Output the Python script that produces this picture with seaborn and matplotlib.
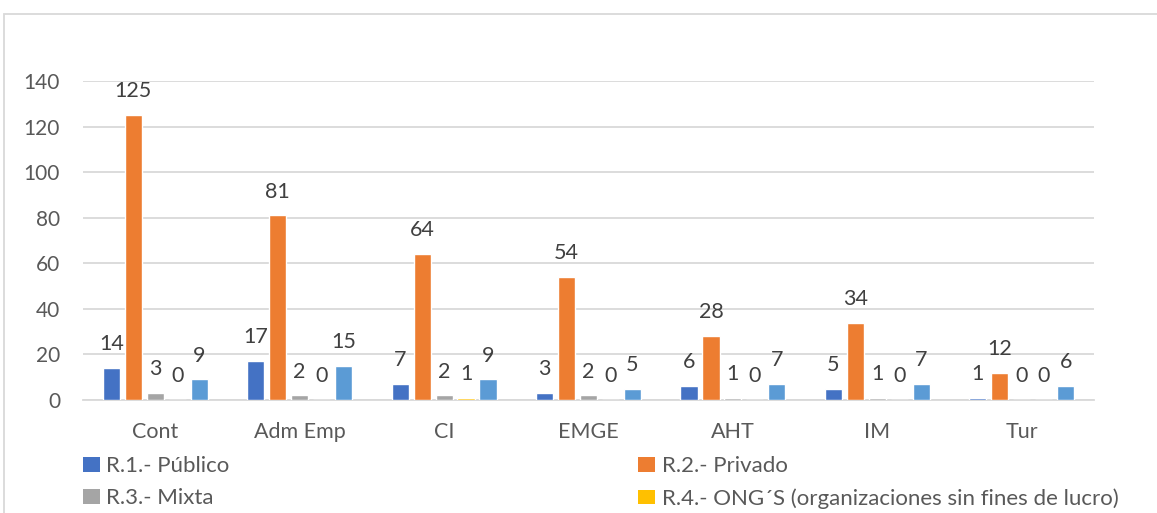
import matplotlib
matplotlib.use("Agg")
import matplotlib.pyplot as plt
from matplotlib.patches import Rectangle, Patch
import seaborn as sns
import pandas as pd

# Programs and counts by sector
programs = ["Cont", "Adm Emp", "CI", "EMGE", "AHT", "IM", "Tur"]
publico = [14, 17, 7, 3, 6, 5, 1]
privado = [125, 81, 64, 54, 28, 34, 12]
mixta = [3, 2, 2, 2, 1, 1, 0]
ong = [0, 0, 1, 0, 0, 0, 0]
otros = [9, 15, 9, 5, 7, 7, 6]

series_names = [
    "R.1.- Público",
    "R.2.- Privado",
    "R.3.- Mixta",
    "R.4.- ONG´S (organizaciones sin fines de lucro)",
    "R.5.- Otros",
]
series_values = [publico, privado, mixta, ong, otros]
colors = ["#4472C4", "#ED7D31", "#A5A5A5", "#FFC000", "#5B9BD5"]

rows = []
for name, vals in zip(series_names, series_values):
    for prog, v in zip(programs, vals):
        rows.append({"Programa": prog, "Sector": name, "Valor": v})
df = pd.DataFrame(rows)

sns.set_theme(style="white")
plt.rcParams["font.family"] = ["Lato", "DejaVu Sans"]

W, H = 1157, 513
fig = plt.figure(figsize=(W / 100, H / 100), dpi=100)
ax = fig.add_axes([83 / W, 1 - 400 / H, (1094 - 83) / W, 319 / H])

sns.barplot(
    data=df, x="Programa", y="Valor", hue="Sector",
    hue_order=series_names, order=programs,
    palette=colors, width=0.76, gap=0.22, saturation=1,
    errorbar=None, legend=False, ax=ax, zorder=3,
)

ax.set_ylim(0, 140)
ax.set_xlim(-0.5, len(programs) - 0.5)
ax.set_yticks(range(0, 141, 20))
ax.yaxis.grid(True, color="#D9D9D9", linewidth=1.3, zorder=0)
ax.set_axisbelow(True)
for side in ["top", "right", "left"]:
    ax.spines[side].set_visible(False)
ax.spines["bottom"].set_color("#D9D9D9")
ax.spines["bottom"].set_linewidth(1.3)
ax.spines["bottom"].set_zorder(1)
ax.set_xlabel("")
ax.set_ylabel("")
ax.tick_params(axis="y", length=0, pad=16.5, labelsize=15, labelcolor="#595959")
ax.tick_params(axis="x", length=0, pad=16, labelsize=15.5, labelcolor="#595959")

# Value labels above each bar
for container in ax.containers:
    ax.bar_label(container, fmt="%d", padding=10, fontsize=15.5, color="#404040")

# Outer chart border
fig.patches.append(Rectangle((4 / W, -0.1), 1.2, 1 - 14 / H + 0.1,
                             transform=fig.transFigure, fill=False,
                             edgecolor="#D9D9D9", linewidth=1.3))

handles = [Patch(facecolor=c, edgecolor="none") for c in colors[:4]]
labels = series_names[:4]
order = [0, 2, 1, 3]
fig.legend(
    [handles[i] for i in order], [labels[i] for i in order],
    ncol=2, loc="upper left", bbox_to_anchor=(63 / W, 1 - 436 / H),
    frameon=False, handlelength=0.75, handleheight=0.65, handletextpad=0.3,
    columnspacing=18.4, labelspacing=0.55, fontsize=16, labelcolor="#595959",
)

fig.savefig("out.png", dpi=100)
